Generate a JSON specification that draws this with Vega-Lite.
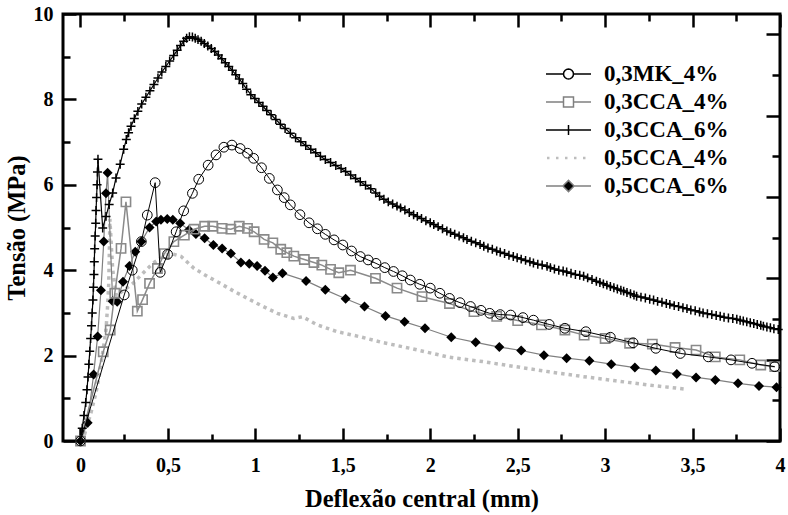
{
  "$schema": "https://vega.github.io/schema/vega-lite/v6.json",
  "width": 717,
  "height": 427,
  "autosize": "none",
  "padding": {"left": 63, "top": 14, "right": 8, "bottom": 74},
  "background": "white",
  "config": {
    "view": {"stroke": "black", "strokeWidth": 3},
    "axis": {
      "domain": false, "grid": false, "tickColor": "black", "tickWidth": 2.5,
      "labelFont": "Liberation Serif", "labelFontWeight": "bold", "labelFontSize": 20, "labelColor": "black",
      "titleFont": "Liberation Serif", "titleFontWeight": "bold", "titleFontSize": 24.5, "titleColor": "black",
      "labelFlush": false, "labelOverlap": false, "labelBound": false
    }
  },
  "datasets": {
    "mk": [{"x":0,"y":0},{"x":0.25,"y":3.42},{"x":0.296,"y":4.0},{"x":0.348,"y":4.67},{"x":0.382,"y":5.29},{"x":0.427,"y":6.05},{"x":0.456,"y":3.95},{"x":0.498,"y":4.37},{"x":0.547,"y":4.9},{"x":0.59,"y":5.39},{"x":0.64,"y":5.8},{"x":0.676,"y":6.13},{"x":0.73,"y":6.46},{"x":0.775,"y":6.7},{"x":0.82,"y":6.88},{"x":0.866,"y":6.93},{"x":0.913,"y":6.85},{"x":0.955,"y":6.74},{"x":0.99,"y":6.62},{"x":1.035,"y":6.4},{"x":1.08,"y":6.15},{"x":1.126,"y":5.88},{"x":1.165,"y":5.7},{"x":1.2,"y":5.53},{"x":1.255,"y":5.3},{"x":1.307,"y":5.11},{"x":1.355,"y":4.97},{"x":1.4,"y":4.84},{"x":1.45,"y":4.71},{"x":1.5,"y":4.59},{"x":1.55,"y":4.45},{"x":1.6,"y":4.32},{"x":1.645,"y":4.24},{"x":1.69,"y":4.16},{"x":1.74,"y":4.06},{"x":1.79,"y":3.97},{"x":1.84,"y":3.87},{"x":1.886,"y":3.77},{"x":1.94,"y":3.67},{"x":2.0,"y":3.58},{"x":2.055,"y":3.46},{"x":2.11,"y":3.34},{"x":2.17,"y":3.24},{"x":2.23,"y":3.15},{"x":2.29,"y":3.06},{"x":2.34,"y":2.99},{"x":2.4,"y":2.96},{"x":2.46,"y":2.95},{"x":2.53,"y":2.89},{"x":2.59,"y":2.83},{"x":2.68,"y":2.73},{"x":2.77,"y":2.64},{"x":2.89,"y":2.56},{"x":3.03,"y":2.43},{"x":3.16,"y":2.3},{"x":3.29,"y":2.17},{"x":3.43,"y":2.05},{"x":3.59,"y":1.97},{"x":3.72,"y":1.9},{"x":3.84,"y":1.82},{"x":3.97,"y":1.74}],
    "c34": [{"x":0,"y":0},{"x":0.13,"y":2.09},{"x":0.17,"y":2.6},{"x":0.196,"y":3.46},{"x":0.232,"y":4.51},{"x":0.26,"y":5.6},{"x":0.325,"y":3.04},{"x":0.355,"y":3.31},{"x":0.395,"y":3.69},{"x":0.44,"y":4.04},{"x":0.48,"y":4.39},{"x":0.534,"y":4.67},{"x":0.594,"y":4.82},{"x":0.65,"y":4.96},{"x":0.71,"y":5.03},{"x":0.756,"y":5.03},{"x":0.81,"y":4.98},{"x":0.86,"y":4.96},{"x":0.908,"y":5.03},{"x":0.955,"y":4.98},{"x":0.993,"y":4.9},{"x":1.05,"y":4.72},{"x":1.1,"y":4.64},{"x":1.145,"y":4.49},{"x":1.18,"y":4.41},{"x":1.22,"y":4.33},{"x":1.28,"y":4.25},{"x":1.335,"y":4.18},{"x":1.38,"y":4.12},{"x":1.43,"y":4.02},{"x":1.477,"y":3.94},{"x":1.544,"y":4.0},{"x":1.687,"y":3.81},{"x":1.81,"y":3.58},{"x":1.953,"y":3.38},{"x":2.11,"y":3.22},{"x":2.25,"y":3.03},{"x":2.38,"y":2.92},{"x":2.5,"y":2.82},{"x":2.636,"y":2.72},{"x":2.77,"y":2.6},{"x":2.88,"y":2.48},{"x":3.0,"y":2.4},{"x":3.14,"y":2.29},{"x":3.27,"y":2.27},{"x":3.4,"y":2.19},{"x":3.52,"y":2.13},{"x":3.63,"y":1.97},{"x":3.77,"y":1.9},{"x":3.89,"y":1.78},{"x":3.97,"y":1.74}],
    "c36": [{"x":0,"y":0},{"x":0.01,"y":0.3},{"x":0.02,"y":0.6},{"x":0.03,"y":0.9},{"x":0.037,"y":1.2},{"x":0.043,"y":1.5},{"x":0.048,"y":1.8},{"x":0.053,"y":2.1},{"x":0.058,"y":2.4},{"x":0.063,"y":2.7},{"x":0.067,"y":3.0},{"x":0.071,"y":3.3},{"x":0.074,"y":3.6},{"x":0.077,"y":3.9},{"x":0.079,"y":4.2},{"x":0.081,"y":4.5},{"x":0.084,"y":4.8},{"x":0.087,"y":5.1},{"x":0.089,"y":5.4},{"x":0.092,"y":5.7},{"x":0.095,"y":6.0},{"x":0.097,"y":6.3},{"x":0.1,"y":6.6},{"x":0.127,"y":4.99},{"x":0.146,"y":5.26},{"x":0.164,"y":5.54},{"x":0.184,"y":5.81},{"x":0.203,"y":6.16},{"x":0.227,"y":6.48},{"x":0.247,"y":6.83},{"x":0.262,"y":7.06},{"x":0.275,"y":7.22},{"x":0.289,"y":7.37},{"x":0.308,"y":7.55},{"x":0.328,"y":7.72},{"x":0.35,"y":7.89},{"x":0.374,"y":8.05},{"x":0.397,"y":8.2},{"x":0.42,"y":8.35},{"x":0.443,"y":8.5},{"x":0.465,"y":8.64},{"x":0.488,"y":8.77},{"x":0.51,"y":8.9},{"x":0.533,"y":9.03},{"x":0.553,"y":9.15},{"x":0.572,"y":9.26},{"x":0.59,"y":9.36},{"x":0.607,"y":9.43},{"x":0.623,"y":9.47},{"x":0.64,"y":9.46},{"x":0.656,"y":9.43},{"x":0.672,"y":9.4},{"x":0.69,"y":9.36},{"x":0.708,"y":9.31},{"x":0.728,"y":9.25},{"x":0.748,"y":9.19},{"x":0.768,"y":9.12},{"x":0.788,"y":9.04},{"x":0.808,"y":8.95},{"x":0.828,"y":8.86},{"x":0.848,"y":8.77},{"x":0.868,"y":8.68},{"x":0.888,"y":8.58},{"x":0.908,"y":8.48},{"x":0.928,"y":8.37},{"x":0.95,"y":8.24},{"x":0.974,"y":8.11},{"x":0.997,"y":8.02},{"x":1.02,"y":7.93},{"x":1.043,"y":7.84},{"x":1.065,"y":7.74},{"x":1.09,"y":7.64},{"x":1.117,"y":7.53},{"x":1.143,"y":7.42},{"x":1.17,"y":7.32},{"x":1.2,"y":7.21},{"x":1.23,"y":7.1},{"x":1.26,"y":7.01},{"x":1.288,"y":6.92},{"x":1.317,"y":6.83},{"x":1.345,"y":6.75},{"x":1.372,"y":6.67},{"x":1.4,"y":6.59},{"x":1.43,"y":6.52},{"x":1.46,"y":6.45},{"x":1.49,"y":6.38},{"x":1.516,"y":6.31},{"x":1.545,"y":6.23},{"x":1.573,"y":6.15},{"x":1.6,"y":6.07},{"x":1.63,"y":5.99},{"x":1.66,"y":5.91},{"x":1.688,"y":5.81},{"x":1.71,"y":5.73},{"x":1.735,"y":5.66},{"x":1.76,"y":5.6},{"x":1.785,"y":5.55},{"x":1.81,"y":5.5},{"x":1.83,"y":5.46},{"x":1.855,"y":5.41},{"x":1.88,"y":5.35},{"x":1.905,"y":5.3},{"x":1.926,"y":5.26},{"x":1.95,"y":5.21},{"x":1.975,"y":5.16},{"x":2.0,"y":5.11},{"x":2.02,"y":5.07},{"x":2.045,"y":5.02},{"x":2.07,"y":4.97},{"x":2.095,"y":4.92},{"x":2.116,"y":4.88},{"x":2.14,"y":4.84},{"x":2.165,"y":4.8},{"x":2.19,"y":4.76},{"x":2.21,"y":4.72},{"x":2.235,"y":4.68},{"x":2.26,"y":4.64},{"x":2.285,"y":4.6},{"x":2.306,"y":4.56},{"x":2.33,"y":4.52},{"x":2.355,"y":4.49},{"x":2.38,"y":4.45},{"x":2.4,"y":4.42},{"x":2.425,"y":4.39},{"x":2.45,"y":4.35},{"x":2.475,"y":4.32},{"x":2.497,"y":4.29},{"x":2.52,"y":4.26},{"x":2.545,"y":4.23},{"x":2.57,"y":4.2},{"x":2.59,"y":4.17},{"x":2.615,"y":4.14},{"x":2.64,"y":4.12},{"x":2.668,"y":4.09},{"x":2.687,"y":4.06},{"x":2.71,"y":4.03},{"x":2.735,"y":4.0},{"x":2.76,"y":3.98},{"x":2.78,"y":3.96},{"x":2.805,"y":3.93},{"x":2.83,"y":3.9},{"x":2.855,"y":3.88},{"x":2.877,"y":3.86},{"x":2.9,"y":3.82},{"x":2.925,"y":3.78},{"x":2.95,"y":3.74},{"x":2.97,"y":3.71},{"x":2.99,"y":3.68},{"x":3.01,"y":3.65},{"x":3.03,"y":3.62},{"x":3.05,"y":3.59},{"x":3.07,"y":3.56},{"x":3.09,"y":3.53},{"x":3.106,"y":3.51},{"x":3.125,"y":3.48},{"x":3.145,"y":3.45},{"x":3.165,"y":3.42},{"x":3.18,"y":3.39},{"x":3.205,"y":3.37},{"x":3.23,"y":3.35},{"x":3.255,"y":3.32},{"x":3.277,"y":3.3},{"x":3.3,"y":3.27},{"x":3.325,"y":3.25},{"x":3.35,"y":3.22},{"x":3.37,"y":3.2},{"x":3.395,"y":3.17},{"x":3.42,"y":3.15},{"x":3.445,"y":3.12},{"x":3.468,"y":3.1},{"x":3.49,"y":3.07},{"x":3.515,"y":3.05},{"x":3.54,"y":3.02},{"x":3.56,"y":3.0},{"x":3.585,"y":2.98},{"x":3.61,"y":2.96},{"x":3.635,"y":2.94},{"x":3.658,"y":2.92},{"x":3.68,"y":2.9},{"x":3.705,"y":2.88},{"x":3.73,"y":2.87},{"x":3.753,"y":2.85},{"x":3.772,"y":2.83},{"x":3.79,"y":2.81},{"x":3.81,"y":2.79},{"x":3.83,"y":2.77},{"x":3.85,"y":2.75},{"x":3.87,"y":2.73},{"x":3.89,"y":2.71},{"x":3.905,"y":2.69},{"x":3.925,"y":2.67},{"x":3.945,"y":2.65},{"x":3.965,"y":2.63},{"x":3.99,"y":2.61}],
    "c54": [{"x":0,"y":0},{"x":0.02,"y":0.11},{"x":0.06,"y":0.66},{"x":0.089,"y":1.14},{"x":0.107,"y":1.52},{"x":0.127,"y":2.07},{"x":0.146,"y":2.61},{"x":0.155,"y":3.16},{"x":0.161,"y":3.63},{"x":0.165,"y":4.4},{"x":0.168,"y":5.2},{"x":0.176,"y":4.6},{"x":0.184,"y":4.02},{"x":0.205,"y":3.4},{"x":0.25,"y":3.54},{"x":0.3,"y":3.69},{"x":0.357,"y":3.93},{"x":0.414,"y":4.16},{"x":0.471,"y":4.32},{"x":0.519,"y":4.39},{"x":0.576,"y":4.32},{"x":0.65,"y":4.04},{"x":0.728,"y":3.85},{"x":0.8,"y":3.69},{"x":0.88,"y":3.5},{"x":0.955,"y":3.34},{"x":1.03,"y":3.18},{"x":1.126,"y":2.99},{"x":1.22,"y":2.87},{"x":1.27,"y":2.91},{"x":1.354,"y":2.72},{"x":1.468,"y":2.56},{"x":1.6,"y":2.44},{"x":1.734,"y":2.3},{"x":1.886,"y":2.17},{"x":2.11,"y":1.96},{"x":2.3,"y":1.86},{"x":2.49,"y":1.74},{"x":2.68,"y":1.62},{"x":2.87,"y":1.51},{"x":3.06,"y":1.41},{"x":3.25,"y":1.31},{"x":3.47,"y":1.21}],
    "c56": [{"x":0,"y":0},{"x":0.041,"y":0.43},{"x":0.075,"y":1.56},{"x":0.098,"y":2.45},{"x":0.117,"y":3.53},{"x":0.133,"y":4.67},{"x":0.146,"y":5.8},{"x":0.155,"y":6.28},{"x":0.184,"y":3.27},{"x":0.21,"y":3.26},{"x":0.243,"y":3.73},{"x":0.28,"y":4.1},{"x":0.313,"y":4.43},{"x":0.348,"y":4.67},{"x":0.395,"y":5.0},{"x":0.433,"y":5.14},{"x":0.46,"y":5.18},{"x":0.496,"y":5.2},{"x":0.528,"y":5.18},{"x":0.57,"y":5.1},{"x":0.62,"y":4.94},{"x":0.66,"y":4.85},{"x":0.71,"y":4.75},{"x":0.76,"y":4.59},{"x":0.81,"y":4.51},{"x":0.86,"y":4.39},{"x":0.917,"y":4.18},{"x":0.965,"y":4.15},{"x":1.01,"y":4.1},{"x":1.055,"y":3.99},{"x":1.1,"y":3.83},{"x":1.155,"y":3.93},{"x":1.29,"y":3.75},{"x":1.4,"y":3.54},{"x":1.516,"y":3.33},{"x":1.624,"y":3.15},{"x":1.744,"y":2.93},{"x":1.853,"y":2.79},{"x":1.97,"y":2.64},{"x":2.12,"y":2.43},{"x":2.26,"y":2.31},{"x":2.395,"y":2.2},{"x":2.52,"y":2.12},{"x":2.65,"y":2.01},{"x":2.78,"y":1.94},{"x":2.91,"y":1.88},{"x":3.035,"y":1.8},{"x":3.17,"y":1.72},{"x":3.29,"y":1.65},{"x":3.41,"y":1.57},{"x":3.52,"y":1.49},{"x":3.63,"y":1.43},{"x":3.76,"y":1.35},{"x":3.88,"y":1.29},{"x":3.98,"y":1.26}]
  },
  "layer": [
    {
      "encoding": {
        "x": {"field": "x", "type": "quantitative", "scale": {"domain": [-0.1, 4], "nice": false, "zero": false},
          "axis": {"orient": "bottom", "title": "Deflexão central (mm)",
            "values": [0,0.25,0.5,0.75,1,1.25,1.5,1.75,2,2.25,2.5,2.75,3,3.25,3.5,3.75,4],
            "labelExpr": "datum.value % 0.5 === 0 ? replace(toString(datum.value), '.', ',') : ''",
            "tickSize": {"condition": {"test": "datum.value % 0.5 === 0", "value": -13}, "value": -7},
            "labelPadding": 27, "titlePadding": 6}},
        "y": {"field": "y", "type": "quantitative", "scale": {"domain": [0, 10], "nice": false},
          "axis": {"orient": "left", "title": "Tensão (MPa)",
            "values": [0,1,2,3,4,5,6,7,8,9,10],
            "labelExpr": "datum.value % 2 === 0 ? datum.label : ''",
            "tickSize": {"condition": {"test": "datum.value % 2 === 0", "value": -13}, "value": -7},
            "labelPadding": 23, "titlePadding": 4}},
        "order": {"value": null}
      },
      "layer": [
        {"data": {"name": "c54"}, "mark": {"type": "line", "color": "#bdbdbd", "strokeWidth": 3.5, "strokeDash": [3.5, 4], "strokeCap": "butt"}},
        {"data": {"name": "c56"}, "mark": {"type": "line", "color": "#808080", "strokeWidth": 1.2}},
        {"data": {"name": "c56"}, "mark": {"type": "point", "shape": "diamond", "size": 100, "filled": true, "color": "black", "opacity": 1}},
        {"data": {"name": "c34"}, "mark": {"type": "line", "color": "#8a8a8a", "strokeWidth": 1.5}},
        {"data": {"name": "c34"}, "mark": {"type": "point", "shape": "square", "size": 85, "filled": false, "color": "#8a8a8a", "strokeWidth": 1.6, "opacity": 1}},
        {"data": {"name": "mk"}, "mark": {"type": "line", "color": "black", "strokeWidth": 1}},
        {"data": {"name": "mk"}, "mark": {"type": "point", "shape": "circle", "size": 95, "filled": false, "color": "black", "strokeWidth": 1, "opacity": 1}},
        {"data": {"name": "c36"}, "mark": {"type": "line", "color": "black", "strokeWidth": 1.2}},
        {"data": {"name": "c36"}, "mark": {"type": "point", "shape": "M-1,0L1,0M0,-1L0,1", "size": 80, "filled": false, "color": "black", "strokeWidth": 1.5, "opacity": 1}},
        {
          "data": {"name": "mk"},
          "transform": [{"filter": "false"}],
          "mark": {"type": "point", "opacity": 1, "strokeWidth": 1.5},
          "encoding": {
            "shape": {"field": "s", "type": "nominal", "title": null,
              "scale": {"domain": ["0,3MK_4%", "0,3CCA_4%", "0,3CCA_6%", "0,5CCA_4%", "0,5CCA_6%"],
                "range": [
                  "M-1,0L-0.222,0M0.222,0L1,0M0.222,0L0.205,0.085L0.157,0.157L0.085,0.205L0,0.222L-0.085,0.205L-0.157,0.157L-0.205,0.085L-0.222,0L-0.205,-0.085L-0.157,-0.157L-0.085,-0.205L0,-0.222L0.085,-0.205L0.157,-0.157L0.205,-0.085Z",
                  "M-1,0L-0.222,0M0.222,0L1,0M-0.222,-0.222L0.222,-0.222L0.222,0.222L-0.222,0.222Z",
                  "M-1,0L1,0M0,-0.222L0,0.222",
                  "M-0.955,-0.06L-0.845,-0.06L-0.845,0.06L-0.955,0.06Z M-0.555,-0.06L-0.445,-0.06L-0.445,0.06L-0.555,0.06Z M-0.155,-0.06L-0.045,-0.06L-0.045,0.06L-0.155,0.06Z M0.245,-0.06L0.355,-0.06L0.355,0.06L0.245,0.06Z M0.645,-0.06L0.755,-0.06L0.755,0.06L0.645,0.06Z",
                  "M-1,0L-0.25,0M0.25,0L1,0M-0.25,0L0,-0.25L0.25,0L0,0.25Z"
                ]},
              "legend": {"orient": "none", "legendX": 482, "legendY": 46, "symbolSize": 2025, "symbolStrokeWidth": 1.5, "labelFont": "Liberation Serif", "labelFontWeight": "bold", "labelFontSize": 23, "labelColor": "black", "labelOffset": 12, "rowPadding": 0, "clipHeight": 28}},
            "stroke": {"field": "s", "type": "nominal", "title": null,
              "scale": {"domain": ["0,3MK_4%", "0,3CCA_4%", "0,3CCA_6%", "0,5CCA_4%", "0,5CCA_6%"], "range": ["black", "#808080", "black", "transparent", "#808080"]},
              "legend": {"orient": "none", "legendX": 482, "legendY": 46, "symbolSize": 2025, "symbolStrokeWidth": 1.5, "labelFont": "Liberation Serif", "labelFontWeight": "bold", "labelFontSize": 23, "labelColor": "black", "labelOffset": 12, "rowPadding": 0, "clipHeight": 28}},
            "fill": {"field": "s", "type": "nominal", "title": null,
              "scale": {"domain": ["0,3MK_4%", "0,3CCA_4%", "0,3CCA_6%", "0,5CCA_4%", "0,5CCA_6%"], "range": ["transparent", "transparent", "transparent", "#bdbdbd", "black"]},
              "legend": {"orient": "none", "legendX": 482, "legendY": 46, "symbolSize": 2025, "symbolStrokeWidth": 1.5, "labelFont": "Liberation Serif", "labelFontWeight": "bold", "labelFontSize": 23, "labelColor": "black", "labelOffset": 12, "rowPadding": 0, "clipHeight": 28}}
          }
        }
      ]
    },
    {
      "data": {"name": "mk"},
      "transform": [{"filter": "false"}],
      "mark": {"type": "point", "opacity": 0},
      "encoding": {
        "x": {"field": "x", "type": "quantitative", "scale": {"domain": [-0.1, 4], "nice": false, "zero": false},
          "axis": {"orient": "top", "title": null, "labels": false,
            "values": [0,0.25,0.5,0.75,1,1.25,1.5,1.75,2,2.25,2.5,2.75,3,3.25,3.5,3.75,4],
            "tickSize": {"condition": {"test": "datum.value % 0.5 === 0", "value": -13}, "value": -7}}},
        "y": {"field": "y", "type": "quantitative", "scale": {"domain": [0, 10.5], "nice": false},
          "axis": {"orient": "right", "title": null, "labels": false,
            "values": [0,1,2,3,4,5,6,7,8,9,10],
            "tickSize": {"condition": {"test": "datum.value % 2 === 0", "value": -14}, "value": -8}}}
      }
    }
  ],
  "resolve": {"scale": {"y": "independent"}, "axis": {"x": "independent", "y": "independent"}}
}
